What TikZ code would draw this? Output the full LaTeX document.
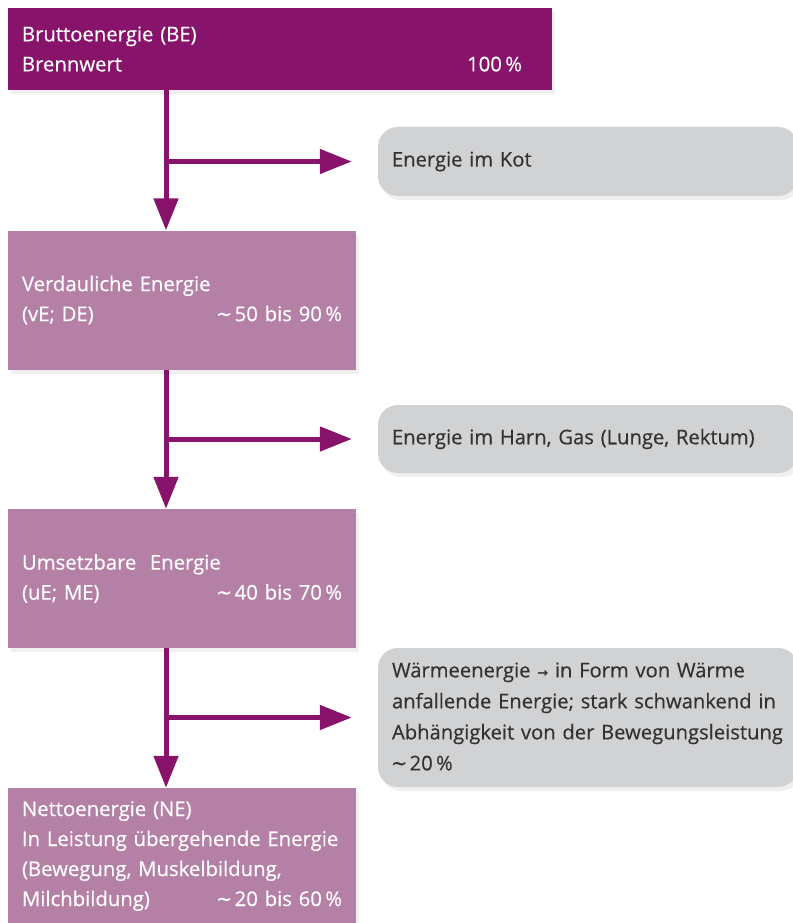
\documentclass[tikz,border=0pt]{standalone}
\usepackage{fontspec}
\setmainfont{Open Sans}[FakeBold=0.35]
\newfontfamily\symfont{DejaVu Sans}
\usetikzlibrary{arrows.meta,shadows}

\definecolor{dunkel}{RGB}{136,19,106}
\definecolor{lila}{RGB}{181,128,166}
\definecolor{grau}{RGB}{209,210,212}
\definecolor{schrift}{RGB}{50,50,50}

\newcommand{\ca}{\raisebox{-0.2ex}{\fontsize{25}{25}\selectfont\textasciitilde}\,}

\tikzset{
  stage/.style={rectangle, fill=lila, text=white, inner xsep=14pt, inner ysep=0pt,
    text width=320pt, minimum height=139pt, align=left,
    font=\fontsize{20.3}{30}\selectfont,
    drop shadow={shadow xshift=3pt, shadow yshift=-4pt, opacity=.12}},
  loss/.style={rectangle, rounded corners=20pt, fill=grau, text=schrift, inner xsep=14pt,
    inner ysep=0pt, text width=392pt, align=left,
    font=\fontsize{20.2}{31}\selectfont,
    drop shadow={shadow xshift=3pt, shadow yshift=-4pt, opacity=.12}},
  flow/.style={draw=dunkel, line width=5pt, -{Triangle[length=32pt,width=24pt]}}
}

\begin{document}
\begin{tikzpicture}[x=1pt,y=-1pt]
\useasboundingbox (0,0) rectangle (792,923);

% stufen
\node[stage, fill=dunkel, text width=516pt, minimum height=82pt] (be) at (280,49)
  {Bruttoenergie (BE)\\ Brennwert\hfill 100\,\%\hspace*{16pt}};
\node[stage] (de) at (182,300)
  {Verdauliche Energie\\ (vE; DE)\hfill \ca 50 bis 90\,\%};
\node[stage] (me) at (182,578.5)
  {Umsetzbare~\ Energie\\ (uE; ME)\hfill \ca 40 bis 70\,\%};
\node[stage, minimum height=136pt] (ne) at (182,856)
  {Nettoenergie (NE)\\ In Leistung übergehende Energie\\ (Bewegung, Muskelbildung,\\
   Milchbildung)\hfill \ca 20 bis 60\,\%};

% verluste
\node[loss, minimum height=69pt] (kot) at (588,161.5) {Energie im Kot};
\node[loss, minimum height=68pt] (harn) at (588,439) {Energie im Harn, Gas (Lunge, Rektum)};
\node[loss, minimum height=139pt] (waerme) at (588,717.5)
  {Wärmeenergie {\symfont\bfseries\fontsize{13}{13}\selectfont →} in Form von Wärme\\
   anfallende Energie; stark schwankend in\\
   Abhängigkeit von der Bewegungsleistung\\
   \ca 20\,\%};

% pfeile
\coordinate (spine) at (166,0);
\draw[flow] (be.south -| spine) -- (de.north -| spine);
\draw[flow] (de.south -| spine) -- (me.north -| spine);
\draw[flow] (me.south -| spine) -- (ne.north -| spine);
\draw[flow] (spine |- kot.west) -- ([xshift=-26pt]kot.west);
\draw[flow] (spine |- harn.west) -- ([xshift=-26pt]harn.west);
\draw[flow] (spine |- waerme.west) -- ([xshift=-26pt]waerme.west);
\end{tikzpicture}
\end{document}
